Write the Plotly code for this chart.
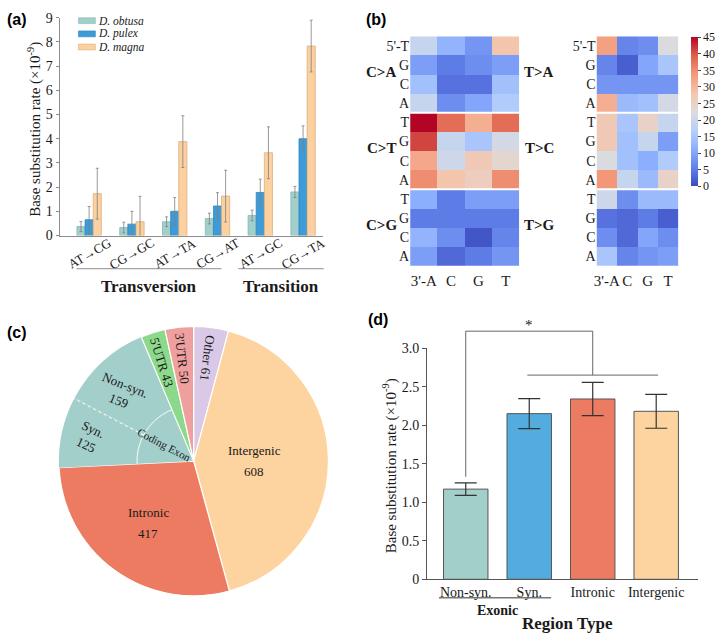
import math
import plotly.graph_objects as go

W, H = 716, 641
def PX(x): return x / W
def PY(y): return 1 - y / H

SERIF = "Liberation Serif"
SANS = "Liberation Sans"
TXT = "#1a1a1a"

# ---------------- Panel (a) data ----------------
mut_types = ["AT→CG", "CG→GC", "AT→TA", "CG→AT", "AT→GC", "CG→TA"]
species = ["D. obtusa", "D. pulex", "D. magna"]
obtusa = [0.37, 0.33, 0.57, 0.70, 0.83, 1.80]
obtusa_err = [0.21, 0.22, 0.20, 0.22, 0.22, 0.23]
pulex = [0.65, 0.47, 1.00, 1.22, 1.78, 4.00]
pulex_err = [0.55, 0.53, 0.57, 0.55, 0.55, 0.53]
magna = [1.73, 0.57, 3.88, 1.63, 3.42, 7.83]
magna_err = [1.05, 1.05, 1.07, 1.07, 1.07, 1.07]
mut_classes = ["Transversion", "Transition"]

# ---------------- Panel (b) data ----------------
context_cols = ["3'-A", "C", "G", "T"]
context_rows = ["5'-T", "G", "C", "A", "T", "G", "C", "A", "T", "G", "C", "A"]
c_groups = ["C>A", "C>T", "C>G"]
t_groups = ["T>A", "T>C", "T>G"]
c_spectrum = [
    [19, 12, 8, 28], [9, 5, 7, 9], [14, 4, 4, 14], [19, 7, 10, 16],
    [45, 38, 31, 38], [41, 19, 15, 21], [32, 20, 27, 24], [35, 28, 26, 35],
    [11, 5, 9, 9], [5, 5, 5, 5], [12, 7, 1, 6], [9, 3, 5, 8],
]
t_spectrum = [
    [33, 6, 7, 22], [6, 2, 10, 15], [8, 8, 8, 8], [31, 13, 14, 21],
    [27, 15, 25, 19], [27, 14, 19, 9], [22, 14, 11, 16], [34, 19, 13, 25],
    [20, 7, 13, 13], [4, 3, 5, 2], [7, 3, 10, 7], [15, 6, 8, 9],
]

# ---------------- Panel (c) data ----------------
pie_labels = ["Other", "Intergenic", "Intronic", "Syn.", "Non-syn.", "5'UTR", "3'UTR"]
pie_counts = [61, 608, 417, 125, 159, 43, 50]

# ---------------- Panel (d) data ----------------
regions = ["Non-syn.", "Syn.", "Intronic", "Intergenic"]
region_rates = [1.17, 2.15, 2.34, 2.18]
region_err = [0.08, 0.195, 0.215, 0.22]

fig = go.Figure()

# ---------- (a) bars ----------
sp_vals = [obtusa, pulex, magna]
sp_errs = [obtusa_err, pulex_err, magna_err]
sp_fill = ["#a3cfcb", "#3d9bd8", "#fcd09f"]
sp_line = ["#86b8b3", "#2f86c2", "#dcae7c"]
for name, v, e, fc, lc in zip(species, sp_vals, sp_errs, sp_fill, sp_line):
    fig.add_trace(go.Bar(
        x=mut_types, y=v, name=name, xaxis="x", yaxis="y", showlegend=False,
        marker=dict(color=fc, line=dict(color=lc, width=0.8)),
        error_y=dict(type="data", array=e, color="#808080", thickness=0.8, width=1.5),
    ))

# ---------- (b) heatmaps ----------
cw = [[0.0, "#3b4cc0"], [0.125, "#6282ea"], [0.25, "#8db0fe"], [0.375, "#b8d0f9"],
      [0.5, "#dddcdc"], [0.625, "#f5c4ac"], [0.75, "#f49a7b"], [0.875, "#dd604c"],
      [1.0, "#b40426"]]
fig.add_trace(go.Heatmap(z=c_spectrum, x=list(range(4)), y=list(range(12)),
                         coloraxis="coloraxis", xaxis="x2", yaxis="y2"))
fig.add_trace(go.Heatmap(z=t_spectrum, x=list(range(4)), y=list(range(12)),
                         coloraxis="coloraxis", xaxis="x3", yaxis="y3"))

# ---------- (c) pie ----------
pie_colors = ["#d9c9e7", "#fdd49f", "#ed7b61", "#a3cfcb", "#a3cfcb", "#8dd98b", "#ee9f9e"]
pie_lw = [1.2, 1.2, 1.2, 0, 0, 1.2, 1.2]
CX, CY, R = 192, 465, 138
fig.add_trace(go.Pie(
    labels=pie_labels, values=pie_counts, sort=False, direction="clockwise", rotation=0,
    textinfo="none", showlegend=False,
    marker=dict(colors=pie_colors, line=dict(color="white", width=pie_lw)),
    domain=dict(x=[PX(CX - R), PX(CX + R)], y=[PY(CY + R), PY(CY - R)]),
))

# ---------- (d) bars ----------
reg_colors = ["#a3cfcb", "#53abde", "#ed7b61", "#fdd49f"]
fig.add_trace(go.Bar(
    x=regions, y=region_rates, width=0.7, xaxis="x4", yaxis="y4", showlegend=False,
    marker=dict(color=reg_colors, line=dict(color="#555555", width=1)),
    error_y=dict(type="data", array=region_err, color="#333333", thickness=1.2, width=11),
))

tickf = dict(family=SERIF, size=14, color=TXT)
shapes = []
ann = []

def A(text, x, y, size=13, family=SERIF, **kw):
    d = dict(text=text, x=x, y=y, xref="paper", yref="paper", showarrow=False,
             xanchor="center", yanchor="middle",
             font=dict(family=family, size=size, color=kw.pop("color", TXT)))
    d.update(kw)
    ann.append(d)

# ---------- axes ----------
fig.update_layout(
    width=W, height=H, margin=dict(l=0, r=0, t=0, b=0),
    paper_bgcolor="white", plot_bgcolor="white",
    barmode="group", bargap=0.43, bargroupgap=0,
    font=dict(family=SERIF, color=TXT),
    xaxis=dict(domain=[PX(57), PX(322)], range=[-0.69, 5.46], type="category",
               showticklabels=False, ticks="", showline=True, linecolor="#8c8c8c",
               showgrid=False, zeroline=False, anchor="y"),
    yaxis=dict(domain=[PY(234), PY(11)], range=[0, 9], tickvals=list(range(10)),
               ticks="outside", ticklen=3, tickcolor="#8c8c8c", showline=True,
               linecolor="#8c8c8c", showgrid=False, zeroline=False, tickfont=tickf,
               anchor="x"),
    xaxis2=dict(domain=[PX(410), PX(520)], range=[-0.5, 3.5], tickvals=list(range(4)),
                ticktext=context_cols, ticks="", showline=False, showgrid=False,
                zeroline=False, tickfont=dict(family=SERIF, size=15, color=TXT),
                ticklabelstandoff=4, anchor="y2"),
    yaxis2=dict(domain=[PY(265), PY(30)], range=[11.5, -0.5], tickvals=list(range(12)),
                ticktext=context_rows, ticks="", showline=False, showgrid=False,
                zeroline=False, tickfont=tickf, anchor="x2"),
    xaxis3=dict(domain=[PX(597.7), PX(680)], range=[-0.5, 3.5], tickvals=list(range(4)),
                ticktext=context_cols, ticks="", showline=False, showgrid=False,
                zeroline=False, tickfont=dict(family=SERIF, size=15, color=TXT),
                ticklabelstandoff=4, anchor="y3"),
    yaxis3=dict(domain=[PY(265), PY(30)], range=[11.5, -0.5], tickvals=list(range(12)),
                ticktext=context_rows, ticks="", showline=False, showgrid=False,
                zeroline=False, tickfont=tickf, anchor="x3"),
    xaxis4=dict(domain=[PX(427), PX(700)], range=[-0.61, 3.66], type="category",
                ticks="", showline=True, linecolor="#555555", showgrid=False,
                zeroline=False, tickfont=tickf, anchor="y4"),
    yaxis4=dict(domain=[PY(586), PY(349.3)], range=[0, 3.0],
                tickvals=[0, 0.5, 1.0, 1.5, 2.0, 2.5, 3.0],
                ticktext=["0", "0.5", "1.0", "1.5", "2.0", "2.5", "3.0"],
                ticks="outside", ticklen=4, tickcolor="#555555", showline=True,
                linecolor="#555555", showgrid=False, zeroline=False, tickfont=tickf,
                anchor="x4"),
    coloraxis=dict(colorscale=cw, cmin=0, cmax=45,
                   colorbar=dict(thicknessmode="pixels", thickness=7, lenmode="pixels",
                                 len=149, x=PX(693), xanchor="left", y=PY(31),
                                 yanchor="top", xpad=0, ypad=0, outlinewidth=0,
                                 tickvals=list(range(0, 50, 5)), ticks="outside",
                                 ticklen=3, tickcolor="#444",
                                 tickfont=dict(family=SERIF, size=12, color=TXT))),
)

# ---------- panel labels ----------
for lab, x, y in [("(a)", 2, 2), ("(b)", 364, 2), ("(c)", 2, 323), ("(d)", 366, 309)]:
    A(f"<b>{lab}</b>", PX(x), PY(y), size=16, family=SANS, color="black",
      xanchor="left", yanchor="top")

# ---------- (a) decorations ----------
A("Base substitution rate (×10<sup>-9</sup>)", PX(31), PY(125), size=15, textangle=-90)
for i, m in enumerate(mut_types):
    A(m, i, PY(252), size=13, xref="x", textangle=-30)
for cls, x0, x1 in [(mut_classes[0], 74, 220), (mut_classes[1], 237, 323)]:
    shapes.append(dict(type="line", xref="paper", yref="paper", x0=PX(x0), x1=PX(x1),
                       y0=PY(268), y1=PY(268), line=dict(color="#8c8c8c", width=1)))
    A(f"<b>{cls}</b>", PX((x0 + x1) / 2), PY(286), size=17)
# legend drawn as swatches + labels
for k, (name, fc, lc) in enumerate(zip(species, sp_fill, sp_line)):
    yc = 14 + 13.5 * k
    shapes.append(dict(type="rect", xref="paper", yref="paper", x0=PX(76), x1=PX(93),
                       y0=PY(yc - 3), y1=PY(yc + 3), fillcolor=fc,
                       line=dict(color=lc, width=0.6)))
    A(f"<i>{name}</i>", PX(95), PY(yc), size=11.5, xanchor="left", borderpad=0)

# ---------- (b) decorations ----------
for xa, ya in [("x2", "y2"), ("x3", "y3")]:
    for yb in [3.5, 7.5]:
        shapes.append(dict(type="line", xref=xa, yref=ya, x0=-0.5, x1=3.5, y0=yb, y1=yb,
                           line=dict(color="white", width=2)))
for groups, xc in [(c_groups, 381), (t_groups, 540)]:
    for g, gname in enumerate(groups):
        A("<b>" + gname.replace(">", "&gt;") + "</b>", PX(xc), 1.5 + 4 * g, size=15,
          yref="y2", yshift=3)

# ---------- (c) decorations ----------
tot = sum(pie_counts)
starts, ends = [], []
acc = 0
for v in pie_counts:
    starts.append(acc / tot * 360)
    acc += v
    ends.append(acc / tot * 360)
mids = [(s + e) / 2 for s, e in zip(starts, ends)]

def polar(r, deg):
    a = math.radians(deg)
    return CX + r * math.sin(a), CY - r * math.cos(a)

for i in [0, 5, 6]:
    x, y = polar(106, mids[i])
    ang = mids[i] - 270 if mids[i] > 180 else mids[i] + 90
    A(f"{pie_labels[i]} {pie_counts[i]}", PX(x), PY(y), size=13, textangle=ang)
for i, r, gap in [(1, 61, 11), (2, 78, 10.5)]:
    x, y = polar(r, mids[i])
    A(pie_labels[i], PX(x), PY(y - gap), size=13)
    A(str(pie_counts[i]), PX(x), PY(y + gap), size=13)
for i, (x, y, ang) in [(3, (87, 440, 25)), (4, (120, 395, 22))]:
    A(f"{pie_labels[i]}<br>{pie_counts[i]}", PX(x), PY(y), size=13, textangle=ang)
r_in = 57
xa_, ya_ = polar(r_in, ends[3])
xb_, yb_ = polar(R, ends[3])
shapes.append(dict(type="line", xref="paper", yref="paper", x0=PX(xa_), y0=PY(ya_),
                   x1=PX(xb_), y1=PY(yb_), line=dict(color="white", width=1, dash="dot")))
pts = []
n = 40
for k in range(n + 1):
    d = starts[3] + (ends[4] - starts[3]) * k / n
    x, y = polar(r_in, d)
    pts.append(f"{PX(x):.5f},{PY(y):.5f}")
shapes.append(dict(type="path", xref="paper", yref="paper",
                   path="M" + " L".join(pts), line=dict(color="white", width=1)))
A("Coding Exon", PX(163), PY(448), size=11, textangle=28)

# ---------- (d) decorations ----------
X4D, X4R = (427, 700), (-0.61, 3.66)
Y4D, Y4R = (586, 349.3), (0, 3.0)
def dx(v): return PX(X4D[0] + (v - X4R[0]) / (X4R[1] - X4R[0]) * (X4D[1] - X4D[0]))
def dy(v): return PY(Y4D[0] + (v - Y4R[0]) / (Y4R[1] - Y4R[0]) * (Y4D[1] - Y4D[0]))

top_y, low_y = 3.22, 2.65
base_y = region_rates[0] + region_err[0] + 0.08
bl = dict(color="#666666", width=1)
shapes += [
    dict(type="line", xref="paper", yref="paper", x0=dx(0), x1=dx(0), y0=dy(base_y), y1=dy(top_y), line=bl),
    dict(type="line", xref="paper", yref="paper", x0=dx(0), x1=dx(2), y0=dy(top_y), y1=dy(top_y), line=bl),
    dict(type="line", xref="paper", yref="paper", x0=dx(2), x1=dx(2), y0=dy(top_y), y1=dy(low_y), line=bl),
    dict(type="line", xref="paper", yref="paper", x0=dx(0.97), x1=dx(3.03), y0=dy(low_y), y1=dy(low_y), line=bl),
]
A("*", dx(1), dy(top_y), size=15, yanchor="bottom", yshift=-4)
A("Base substitution rate (×10<sup>-9</sup>)", PX(389), PY(470), size=15, textangle=-90)
shapes.append(dict(type="line", xref="paper", yref="paper", x0=PX(439), x1=PX(552),
                   y0=PY(605), y1=PY(605), line=dict(color="#333333", width=1)))
A("<b>Exonic</b>", PX(498), PY(618), size=14)
A("<b>Region Type</b>", PX(568), PY(631), size=17)

fig.update_layout(shapes=shapes, annotations=ann)
fig.write_html("out.html")
